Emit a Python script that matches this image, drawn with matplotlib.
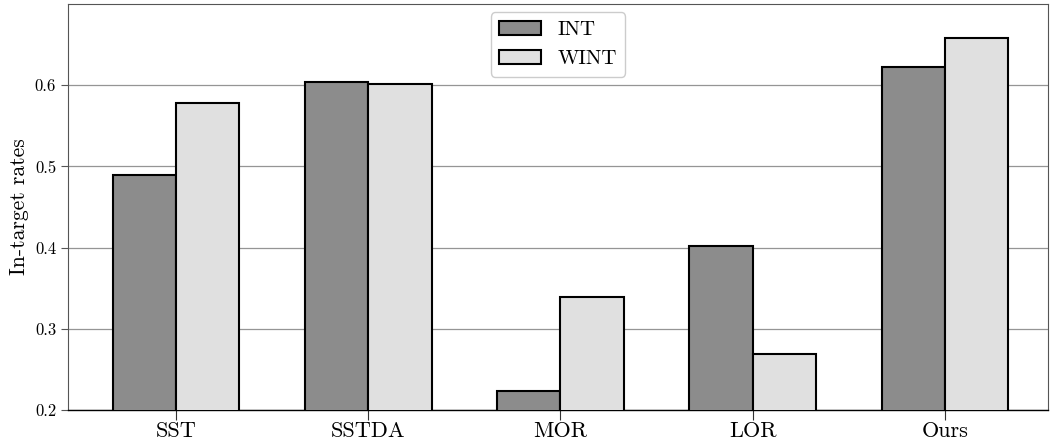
import matplotlib
matplotlib.use("Agg")
import matplotlib.pyplot as plt
import numpy as np

plt.rcParams["font.family"] = "serif"
plt.rcParams["font.serif"] = ["cmr10", "DejaVu Serif"]
plt.rcParams["mathtext.fontset"] = "cm"
plt.rcParams["axes.formatter.use_mathtext"] = True

methods = ["SST", "SSTDA", "MOR", "LOR", "Ours"]
int_rates = [0.489, 0.604, 0.223, 0.402, 0.623]
wint_rates = [0.578, 0.601, 0.339, 0.269, 0.658]

x = np.arange(len(methods))
width = 0.33

fig = plt.figure(figsize=(10.5, 4.46), dpi=100)
ax = fig.add_axes([68 / 1050, 36 / 446, 980 / 1050, 406 / 446])

ax.bar(x - width / 2, int_rates, width, color="#8c8c8c", edgecolor="black",
       linewidth=1.5, label="INT", zorder=3)
ax.bar(x + width / 2, wint_rates, width, color="#e0e0e0", edgecolor="black",
       linewidth=1.5, label="WINT", zorder=3)

ax.set_xlim(-0.562, 4.536)
ax.set_ylim(0.2, 0.7)
ax.set_yticks([0.2, 0.3, 0.4, 0.5, 0.6])
ax.set_yticklabels(["0.2", "0.3", "0.4", "0.5", "0.6"], fontsize=12)
ax.set_xticks(x)
ax.set_xticklabels(methods, fontsize=16)
ax.set_ylabel("In-target rates", fontsize=15.5)
ax.yaxis.grid(True, color="#959595", linewidth=0.9, zorder=0)
ax.set_axisbelow(True)

for side in ["left", "top", "right"]:
    ax.spines[side].set_color("#555555")
ax.spines["bottom"].set_color("black")
ax.spines["bottom"].set_linewidth(1.0)
ax.tick_params(axis="x", length=7, color="#333333", pad=1)
ax.tick_params(axis="y", length=5, color="#555555")

ax.legend(loc="upper center", fontsize=15, framealpha=1.0, edgecolor="#cccccc",
          handlelength=2.0, borderaxespad=0.4)

fig.savefig("out.png", dpi=100)
